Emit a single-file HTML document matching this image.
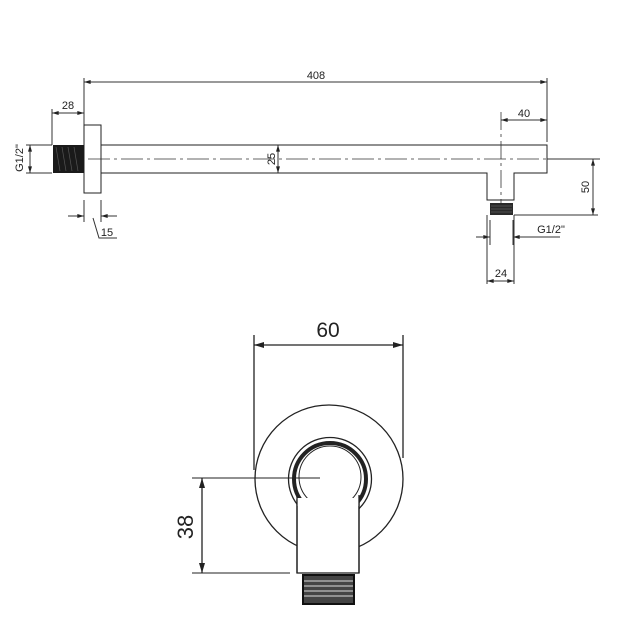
<!DOCTYPE html>
<html><head><meta charset="utf-8"><style>html,body{margin:0;padding:0;background:#fff}svg{display:block}</style></head>
<body>
<svg width="620" height="620" viewBox="0 0 620 620" xmlns="http://www.w3.org/2000/svg" font-family="Liberation Sans, sans-serif">
<defs>
<marker id="a" viewBox="0 0 10 6" refX="10" refY="3" markerWidth="8" markerHeight="4" orient="auto-start-reverse" markerUnits="userSpaceOnUse"><path d="M0,0L10,3L0,6z" fill="#222"/></marker>
<marker id="b" viewBox="0 0 10 6" refX="10" refY="3" markerWidth="14" markerHeight="6" orient="auto-start-reverse" markerUnits="userSpaceOnUse"><path d="M0,0L10,3L0,6z" fill="#222"/></marker>
</defs>
<g stroke="#333" stroke-width="1" fill="none">
<line x1="84" y1="82" x2="547" y2="82" marker-start="url(#a)" marker-end="url(#a)"/>
<line x1="84" y1="78" x2="84" y2="125"/>
<line x1="547" y1="78" x2="547" y2="142"/>
<line x1="52" y1="113" x2="84" y2="113" marker-start="url(#a)" marker-end="url(#a)"/>
<line x1="52" y1="109" x2="52" y2="145"/>
<rect x="84" y="125" width="17" height="68" fill="#fff" stroke="#222"/>
<path d="M101,145H547V173H514V200H487V173H101" stroke="#222"/>
<line x1="88" y1="159" x2="600" y2="159" stroke-dasharray="22,4,3,4" stroke-width="0.8"/>
<line x1="501" y1="112" x2="501" y2="212" stroke-dasharray="18,4,3,4" stroke-width="0.8"/>
<line x1="501" y1="120" x2="547" y2="120" marker-start="url(#a)" marker-end="url(#a)"/>
<line x1="278" y1="145" x2="278" y2="173" marker-start="url(#a)" marker-end="url(#a)"/>
<line x1="26" y1="145" x2="52" y2="145"/><line x1="26" y1="173" x2="52" y2="173"/>
<line x1="30" y1="145" x2="30" y2="173" marker-start="url(#a)" marker-end="url(#a)"/>
<line x1="84" y1="200" x2="84" y2="222"/><line x1="101" y1="200" x2="101" y2="222"/>
<line x1="68" y1="216" x2="84" y2="216" marker-end="url(#a)"/>
<line x1="117" y1="216" x2="101" y2="216" marker-end="url(#a)"/>
<path d="M93,218L99,238H117"/>
<line x1="547" y1="159" x2="600" y2="159"/>
<line x1="514" y1="215" x2="598" y2="215"/>
<line x1="593" y1="159" x2="593" y2="215" marker-start="url(#a)" marker-end="url(#a)"/>
<line x1="490" y1="220" x2="490" y2="245"/><line x1="513" y1="220" x2="513" y2="245"/>
<line x1="476" y1="237" x2="490" y2="237" marker-end="url(#a)"/>
<line x1="560" y1="237" x2="513" y2="237" marker-end="url(#a)"/>
<line x1="487" y1="215" x2="487" y2="284"/><line x1="514" y1="215" x2="514" y2="284"/>
<line x1="487" y1="281" x2="514" y2="281" marker-start="url(#a)" marker-end="url(#a)"/>
</g>
<rect x="53" y="145" width="31" height="28" fill="#1a1a1a"/>
<g stroke="#555" stroke-width="0.7"><path d="M56,147l4,24M62,147l4,24M68,147l4,24M74,147l4,24"/></g>
<rect x="490" y="203" width="23" height="12" fill="#2a2a2a"/>
<g stroke="#777" stroke-width="0.6"><path d="M491,206h21M491,209h21M491,212h21"/></g>
<g font-size="11" fill="#222">
<text x="316" y="79" text-anchor="middle">408</text>
<text x="68" y="109" text-anchor="middle">28</text>
<text x="524" y="117" text-anchor="middle">40</text>
<text x="107" y="236" text-anchor="middle">15</text>
<text x="551" y="233" text-anchor="middle">G1/2"</text>
<text x="501" y="277" text-anchor="middle">24</text>
<text transform="translate(275,159) rotate(-90)" text-anchor="middle">25</text>
<text transform="translate(589,187) rotate(-90)" text-anchor="middle">50</text>
<text transform="translate(23,158) rotate(-90)" text-anchor="middle">G1/2"</text>
</g>
<g stroke="#222" stroke-width="1.3" fill="none">
<line x1="254" y1="335" x2="254" y2="470"/>
<line x1="403" y1="335" x2="403" y2="458"/>
<line x1="254" y1="345" x2="403" y2="345" marker-start="url(#b)" marker-end="url(#b)"/>
<circle cx="329" cy="479" r="74" fill="#fff"/>
<circle cx="330" cy="479" r="41.5" fill="#fff"/>
<circle cx="330" cy="479" r="36" stroke-width="4"/>
<circle cx="330" cy="477" r="31" fill="#fff" stroke-width="1"/>
<rect x="297" y="500" width="62" height="73" fill="#fff"/>
<line x1="192" y1="478" x2="320" y2="478" stroke-width="1"/>
<line x1="192" y1="573" x2="290" y2="573" stroke-width="1"/>
<line x1="202" y1="478" x2="202" y2="573" marker-start="url(#b)" marker-end="url(#b)"/>
</g>
<rect x="297" y="498" width="62" height="8" fill="#fff"/>
<line x1="297" y1="495" x2="297" y2="573" stroke="#222" stroke-width="1.3"/>
<line x1="359" y1="495" x2="359" y2="573" stroke="#222" stroke-width="1.3"/>
<rect x="303" y="575" width="51" height="29" fill="#444" stroke="#222" stroke-width="1.5"/>
<g stroke="#ddd" stroke-width="1"><path d="M304,581h49M304,586h49M304,591h49M304,596h49"/></g>
<rect x="303" y="575" width="51" height="29" fill="none" stroke="#111" stroke-width="2"/>
<g fill="#222">
<text x="328" y="337" font-size="21" text-anchor="middle">60</text>
<text transform="translate(193,527) rotate(-90)" font-size="22" text-anchor="middle">38</text>
</g>
</svg>
</body></html>
